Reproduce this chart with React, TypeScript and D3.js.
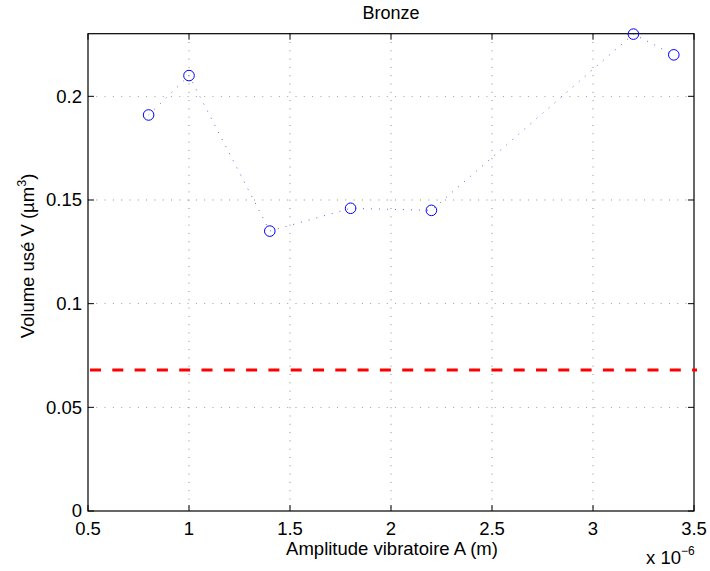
import React from "react";
import * as d3 from "d3";

const amplitudes = [0.8, 1.0, 1.4, 1.8, 2.2, 3.2, 3.4];
const volumes = [0.191, 0.21, 0.135, 0.146, 0.145, 0.23, 0.22];
const thresholdValue = 0.068;
const xTicks = [0.5, 1, 1.5, 2, 2.5, 3, 3.5];
const yTicks = [0, 0.05, 0.1, 0.15, 0.2];
const title = "Bronze";
const xLabel = "Amplitude vibratoire A (m)";

export default function App() {
  const W = 710, H = 571;
  const left = 88, right = 694, top = 33.7, bottom = 511;
  const x = d3.scaleLinear().domain([0.5, 3.5]).range([left, right]);
  const y = d3.scaleLinear().domain([0, 0.2302]).range([bottom, top]);
  const font = "'Liberation Sans', Arial, Helvetica, sans-serif";
  const fs = 18.5;
  const line = d3.line<number>().x((_, i) => x(amplitudes[i])).y((d) => y(d));
  const tickLen = 6;
  return (
    <svg width={W} height={H} style={{ position: "absolute", left: 0, top: 0, background: "#fff" }} fontFamily={font}>
      <rect x={0} y={0} width={W} height={H} fill="#fff" />
      {/* grid */}
      {xTicks.filter((t) => t > 0.5 && t < 3.5).map((t) => (
        <line key={"gx" + t} x1={x(t)} x2={x(t)} y1={top} y2={bottom} stroke="#000" strokeWidth={0.6} strokeDasharray="1,7.3" opacity={0.75} />
      ))}
      {yTicks.filter((t) => t > 0).map((t) => (
        <line key={"gy" + t} x1={left} x2={right} y1={y(t)} y2={y(t)} stroke="#000" strokeWidth={0.6} strokeDasharray="1,7.3" opacity={0.75} />
      ))}
      {/* box */}
      <rect x={left} y={top} width={right - left} height={bottom - top} fill="none" stroke="#000" strokeWidth={1.2} />
      {/* ticks */}
      {xTicks.map((t) => (
        <g key={"tx" + t}>
          <line x1={x(t)} x2={x(t)} y1={bottom} y2={bottom - tickLen} stroke="#000" strokeWidth={1} />
          <line x1={x(t)} x2={x(t)} y1={top} y2={top + tickLen} stroke="#000" strokeWidth={1} />
          <text x={x(t)} y={534.5} fontSize={fs} textAnchor="middle" fill="#000">{t}</text>
        </g>
      ))}
      {yTicks.map((t) => (
        <g key={"ty" + t}>
          <line x1={left} x2={left + tickLen} y1={y(t)} y2={y(t)} stroke="#000" strokeWidth={1} />
          <line x1={right} x2={right - tickLen} y1={y(t)} y2={y(t)} stroke="#000" strokeWidth={1} />
          <text x={82} y={y(t) + (t === 0 ? 5.5 : 6.5)} fontSize={fs} textAnchor="end" fill="#000">{t}</text>
        </g>
      ))}
      {/* threshold */}
      <line x1={90} x2={697} y1={y(thresholdValue)} y2={y(thresholdValue)} stroke="#ff0000" strokeWidth={3.2} strokeDasharray="11,11.3" />
      {/* data */}
      <path d={line(volumes) || ""} fill="none" stroke="#0000ff" strokeWidth={0.8} strokeDasharray="1,7" opacity={0.8} />
      {volumes.map((v, i) => (
        <circle key={"p" + i} cx={x(amplitudes[i])} cy={y(v)} r={5.3} fill="none" stroke="#0000ff" strokeWidth={1} />
      ))}
      {/* labels */}
      <text x={391} y={19} fontSize={18} textAnchor="middle" fill="#000">{title}</text>
      <text x={392} y={555} fontSize={fs} textAnchor="middle" fill="#000">{xLabel}</text>
      <text x={646} y={564} fontSize={fs} fill="#000">x 10<tspan dy={-9} fontSize={12}>−6</tspan></text>
      <text transform={`translate(34,256) rotate(-90)`} fontSize={fs} textAnchor="middle" fill="#000">
        Volume usé V (µm<tspan dy={-8} fontSize={12.5}>3</tspan><tspan dy={8}>)</tspan>
      </text>
    </svg>
  );
}
